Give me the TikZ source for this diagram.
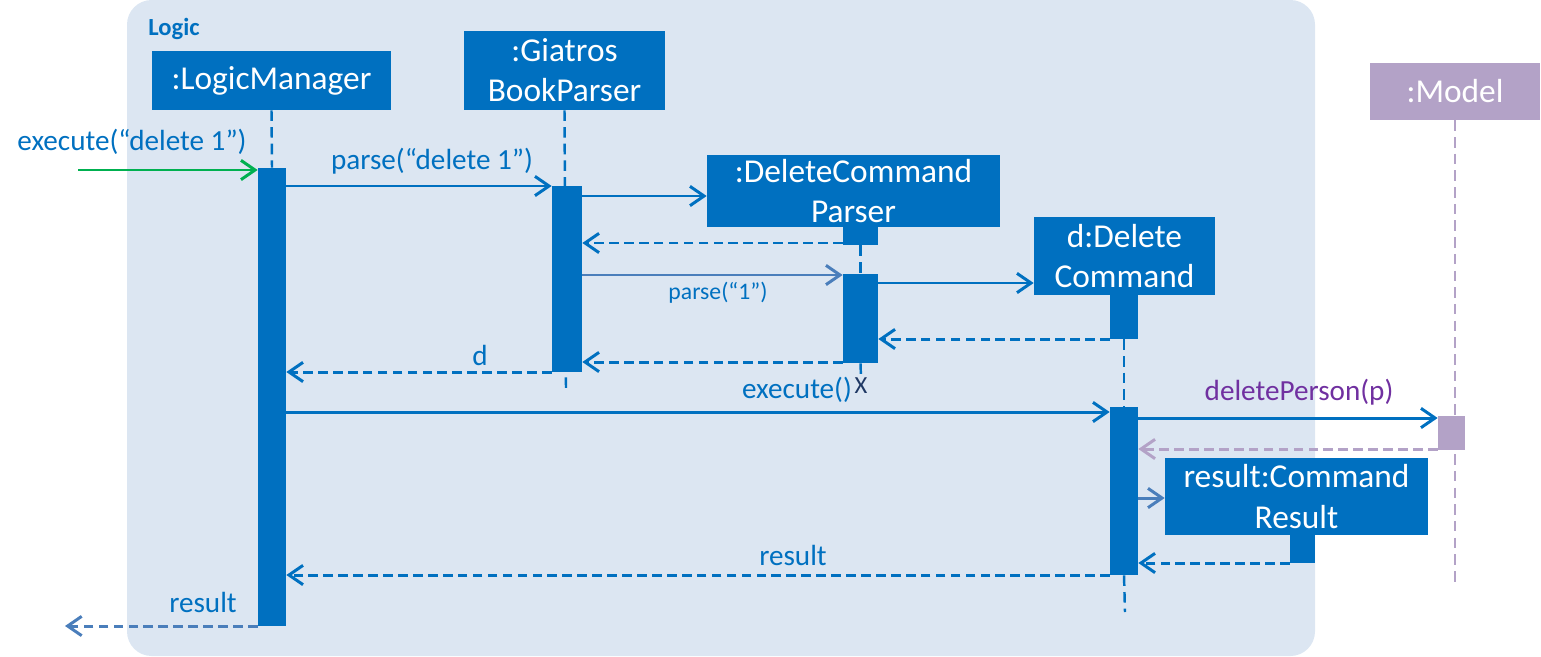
\documentclass[tikz,border=0pt]{standalone}
\usepackage{fontspec}
\setmainfont{Carlito}
\usetikzlibrary{arrows.meta}
\definecolor{mblue}{HTML}{0070C0}
\definecolor{lblue}{HTML}{4A7EBB}
\definecolor{bgblue}{HTML}{DCE6F2}
\definecolor{lilac}{HTML}{B3A2C7}
\definecolor{purp}{HTML}{7030A0}
\definecolor{mgreen}{HTML}{00B050}
\definecolor{navy}{HTML}{1F3864}
\begin{document}
\begin{tikzpicture}[x=0.02cm,y=-0.02cm,
  obj/.style={fill=mblue, text=white, inner sep=0pt, align=center,
    font=\fontsize{19}{22.8}\selectfont},
  actbar/.style={fill=mblue, inner sep=0pt},
  msg/.style={draw=mblue, line width=1.7pt, -{Straight Barb[length=8pt,width=11pt]}},
  ret/.style={msg, dash pattern=on 5.5pt off 3pt},
  life/.style={draw=mblue, line width=1.4pt, dash pattern=on 6pt off 3.5pt},
  lbl/.style={text=mblue, inner sep=0pt, font=\fontsize{16.6}{19}\selectfont}
]
\useasboundingbox (0,0) rectangle (1541,656);
\fill[bgblue, rounded corners=14pt] (127,0) rectangle (1315,656);
\node[text=mblue, font=\fontsize{14}{16}\bfseries\selectfont, anchor=west, inner sep=0pt] (logic) at (148,29) {Logic};

% objects
\node[obj, minimum width=4.78cm, minimum height=1.18cm] (lm) at (271.5,80.5) {:LogicManager};
\node[obj, minimum width=4.02cm, minimum height=1.58cm] (bp) at (564.5,70.5) {:Giatros\\BookParser};
\node[obj, minimum width=5.86cm, minimum height=1.44cm] (dcp) at (853.5,191) {:DeleteCommand\\Parser};
\node[obj, minimum width=3.62cm, minimum height=1.56cm] (dc) at (1124.5,256) {d:Delete\\Command};
\node[obj, fill=lilac, minimum width=3.4cm, minimum height=1.14cm] (model) at (1455,91.5) {:Model};
\node[obj, minimum width=5.26cm, minimum height=1.54cm] (res) at (1296.5,496.5) {result:Command\\Result};

% lifelines
\coordinate (bpend) at (566,390);
\coordinate (dcend) at (1125,612);
\coordinate (modelend) at (1455,583);
\node[text=navy, inner sep=0pt, font=\fontsize{14}{16}\selectfont] (xmark) at (861,386) {X};

% activation bars
\node[actbar, minimum width=0.56cm, minimum height=9.16cm] (lmbar) at (272,397) {};
\node[actbar, minimum width=0.6cm, minimum height=3.72cm] (bpbar) at (567,279) {};
\node[actbar, minimum width=0.7cm, minimum height=0.36cm] (dcpstub) at (860.5,236) {};
\node[actbar, minimum width=0.7cm, minimum height=1.78cm] (dcpbar) at (860.5,318.5) {};
\node[actbar, minimum width=0.56cm, minimum height=0.88cm] (dcstub) at (1124,317) {};
\node[actbar, minimum width=0.56cm, minimum height=3.36cm] (dcbar) at (1124,491) {};
\node[actbar, fill=lilac, minimum width=0.54cm, minimum height=0.68cm] (modelbar) at (1451.5,433) {};
\node[actbar, minimum width=0.5cm, minimum height=0.56cm] (resstub) at (1302.5,549) {};

\draw[life] (lm.south) -- (lmbar.north);
\draw[life] (bp.south) -- (bpend);
\draw[life] (dcpstub.south) -- (dcpbar.north);
\draw[life] (dcpbar.south) -- (xmark.north);
\draw[life] (dcstub.south) -- (dcbar.north);
\draw[life] (dcbar.south) -- (dcend);
\draw[life, draw=lilac] (model.south) -- (modelend);

% messages
\coordinate (start) at (78,170);
\coordinate (finish) at (65,626);
\draw[msg, draw=mgreen] (start) -- (lmbar.west |- start);
\node[lbl] (l1) at (132,142) {execute(“delete 1”)};

\draw[msg] (lmbar.east |- 0,186) -- (bpbar.west |- 0,186);
\node[lbl] (l2) at (432,161) {parse(“delete 1”)};

\draw[msg] (bpbar.east |- 0,196) -- (dcp.west |- 0,196);
\draw[ret] (dcpstub.west |- 0,243) -- (bpbar.east |- 0,243);

\draw[msg, draw=lblue] (bpbar.east |- 0,275) -- (dcpbar.west |- 0,275);
\node[lbl, font=\fontsize{13.5}{15}\selectfont] (l3) at (718,293) {parse(“1”)};

\draw[msg] (dcpbar.east |- 0,283) -- (dc.west |- 0,283);
\draw[ret] (dcstub.west |- 0,339) -- (dcpbar.east |- 0,339);
\draw[ret] (dcpbar.west |- 0,362) -- (bpbar.east |- 0,362);
\draw[ret] (bpbar.west |- 0,372) -- (lmbar.east |- 0,372);
\node[lbl] (l4) at (480,355) {d};

\draw[msg] (lmbar.east |- 0,412) -- (dcbar.west |- 0,412);
\node[lbl] (l5) at (797,390) {execute()};

\draw[msg] (dcbar.east |- 0,418) -- (modelbar.west |- 0,418);
\node[lbl, text=purp] (l6) at (1299,392) {deletePerson(p)};
\draw[ret, draw=lilac] (modelbar.west |- 0,449) -- (dcbar.east |- 0,449);

\draw[msg, draw=lblue] (dcbar.east |- 0,498) -- (res.west |- 0,498);
\draw[ret] (resstub.west |- 0,563) -- (dcbar.east |- 0,563);

\draw[ret] (dcbar.west |- 0,575) -- (lmbar.east |- 0,575);
\node[lbl] (l7) at (793,555) {result};

\draw[ret, draw=lblue] (lmbar.west |- finish) -- (finish);
\node[lbl] (l8) at (203,602) {result};
\end{tikzpicture}
\end{document}
